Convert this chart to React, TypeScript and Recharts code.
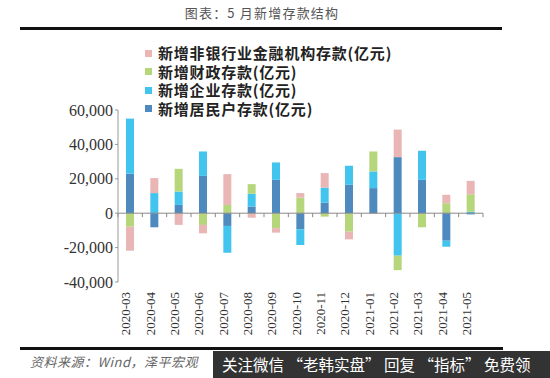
import React from 'react';
import {
  BarChart,
  Bar,
  XAxis,
  YAxis,
  ReferenceLine,
} from 'recharts';

const months = [
  '2020-03', '2020-04', '2020-05', '2020-06', '2020-07', '2020-08', '2020-09', '2020-10',
  '2020-11', '2020-12', '2021-01', '2021-02', '2021-03', '2021-04', '2021-05',
];
const residents = [23000, -8200, 4800, 21700, -7400, 3900, 19400, -9300, 6200, 16500, 14600, 32600, 19400, -16000, -700];
const enterprise = [32000, 11700, 7800, 14200, -15600, 7400, 10100, -9200, 8700, 11100, 9700, -24700, 16900, -3500, 900];
const fiscal = [-7800, 0, 13200, -6800, 4800, 5600, -8700, 9100, -2000, -10700, 11600, -8400, -8200, 5800, 10100];
const nonbank = [-14000, 8700, -6800, -4900, 17900, -2600, -2600, 2600, 8400, -4500, -500, 16000, 0, 4900, 7800];
const yTicks = [-40000, -20000, 0, 20000, 40000, 60000];

const data = months.map((m, i) => ({
  month: m,
  residents: residents[i],
  enterprise: enterprise[i],
  fiscal: fiscal[i],
  nonbank: nonbank[i],
}));

// stacking order, from the zero line outwards
const series = [
  { key: 'residents', name: '新增居民户存款(亿元)', color: '#4F8ABF' },
  { key: 'enterprise', name: '新增企业存款(亿元)', color: '#41C4EE' },
  { key: 'fiscal', name: '新增财政存款(亿元)', color: '#B5D67B' },
  { key: 'nonbank', name: '新增非银行业金融机构存款(亿元)', color: '#E9B5B5' },
];

const CJK = '"Noto Sans CJK SC", sans-serif';
const SERIF = 'Liberation Serif, DejaVu Serif, serif';

const MonthTick = (props: any) => {
  const { x, y, payload } = props;
  return (
    <text
      x={x}
      y={y + 10}
      transform={`rotate(-90, ${x}, ${y + 10})`}
      textAnchor="end"
      fontFamily={SERIF}
      fontSize={13}
      fill="#333"
    >
      {payload.value}
    </text>
  );
};

const ValueTick = (props: any) => {
  const { x, y, payload } = props;
  return (
    <text x={x} y={y} dy="0.35em" textAnchor="end" fontFamily={SERIF} fontSize={16} fill="#333">
      {Number(payload.value).toLocaleString('en-US')}
    </text>
  );
};

// zero line with tick marks at the category boundaries
const ZeroLine = (props: any) => {
  const { x1, y1, x2 } = props;
  const step = (x2 - x1) / months.length;
  const ticks = [];
  for (let i = 0; i <= months.length; i++) {
    const x = x1 + i * step;
    ticks.push(<line key={i} x1={x} x2={x} y1={y1} y2={y1 + 4} stroke="#888" strokeWidth={1} />);
  }
  return (
    <g>
      <line x1={x1} x2={x2} y1={y1} y2={y1} stroke="#888" strokeWidth={1} />
      {ticks}
    </g>
  );
};

export default function App() {
  return (
    <div style={{ position: 'absolute', left: 0, top: 0, width: 550, height: 378, background: '#fff', overflow: 'hidden' }}>
      <div
        style={{
          position: 'absolute', left: 0, width: 524, top: 3, textAlign: 'center',
          fontFamily: CJK, fontSize: 13, letterSpacing: 1.2, color: '#555',
        }}
      >
        图表：5 月新增存款结构
      </div>
      <div style={{ position: 'absolute', left: 20, top: 27, width: 482, height: 3, background: '#111' }} />

      <BarChart
        width={550}
        height={378}
        data={data}
        stackOffset="sign"
        barSize={8}
        margin={{ top: 110, right: 67, bottom: 26, left: 0 }}
      >
        <XAxis
          dataKey="month"
          axisLine={false}
          tickLine={false}
          tickSize={0}
          tickMargin={0}
          height={70}
          interval={0}
          tick={<MonthTick />}
        />
        <YAxis
          width={118}
          domain={[-40000, 60000]}
          ticks={yTicks}
          interval={0}
          tickSize={3}
          tickMargin={2}
          axisLine={{ stroke: '#999' }}
          tickLine={{ stroke: '#999' }}
          tick={<ValueTick />}
        />
        {series.map((s) => (
          <Bar key={s.key} dataKey={s.key} name={s.name} stackId="a" fill={s.color} isAnimationActive={false} />
        ))}
        <ReferenceLine y={0} shape={<ZeroLine />} />
      </BarChart>

      <div style={{ position: 'absolute', left: 140, top: 44, fontFamily: CJK, fontSize: 15, fontWeight: 700, color: '#222', letterSpacing: 0.8 }}>
        {[...series].reverse().map((s) => (
          <div key={s.key} style={{ height: 18.5, lineHeight: '18.5px', display: 'flex', alignItems: 'center', whiteSpace: 'nowrap' }}>
            <span style={{ display: 'block', width: 7, height: 7, background: s.color, marginLeft: 5, marginRight: 6 }} />
            <span>{s.name}</span>
          </div>
        ))}
      </div>

      <div style={{ position: 'absolute', left: 20, top: 347, width: 483, height: 3, background: '#111' }} />
      <div
        style={{
          position: 'absolute', left: 30, top: 352, fontFamily: CJK, fontStyle: 'italic',
          fontSize: 13, color: '#666', letterSpacing: 0.5,
        }}
      >
        资料来源：Wind，泽平宏观
      </div>
      <div
        style={{
          position: 'absolute', left: 213, top: 351, width: 337, height: 27, background: '#333',
          color: '#fff', fontFamily: CJK, fontSize: 15.5, lineHeight: '27px', paddingLeft: 9, boxSizing: 'border-box',
          whiteSpace: 'nowrap',
        }}
      >
        关注微信 “老韩实盘” 回复 “指标” 免费领
      </div>
    </div>
  );
}
